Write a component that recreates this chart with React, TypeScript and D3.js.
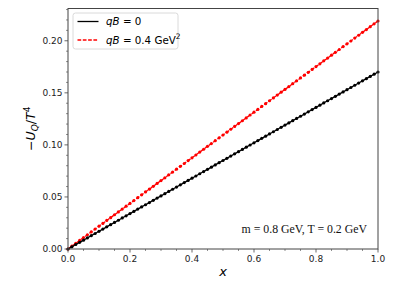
import React from "react";
import * as d3 from "d3";

const xValues = [
  0, 0.0125, 0.025, 0.0375, 0.05, 0.0625, 0.075, 0.0875, 0.1, 0.1125, 0.125, 0.1375, 0.15, 0.1625, 0.175, 0.1875,
  0.2, 0.2125, 0.225, 0.2375, 0.25, 0.2625, 0.275, 0.2875, 0.3, 0.3125, 0.325, 0.3375, 0.35, 0.3625, 0.375, 0.3875,
  0.4, 0.4125, 0.425, 0.4375, 0.45, 0.4625, 0.475, 0.4875, 0.5, 0.5125, 0.525, 0.5375, 0.55, 0.5625, 0.575, 0.5875,
  0.6, 0.6125, 0.625, 0.6375, 0.65, 0.6625, 0.675, 0.6875, 0.7, 0.7125, 0.725, 0.7375, 0.75, 0.7625, 0.775, 0.7875,
  0.8, 0.8125, 0.825, 0.8375, 0.85, 0.8625, 0.875, 0.8875, 0.9, 0.9125, 0.925, 0.9375, 0.95, 0.9625, 0.975, 0.9875, 1.0,
];

const seriesQB0 = [
  0, 0.0021, 0.0043, 0.0064, 0.0085, 0.0106, 0.0128, 0.0149, 0.017, 0.0191, 0.0213, 0.0234, 0.0255, 0.0276, 0.0298, 0.0319,
  0.034, 0.0361, 0.0383, 0.0404, 0.0425, 0.0446, 0.0468, 0.0489, 0.051, 0.0531, 0.0553, 0.0574, 0.0595, 0.0616, 0.0638, 0.0659,
  0.068, 0.0701, 0.0723, 0.0744, 0.0765, 0.0786, 0.0808, 0.0829, 0.085, 0.0871, 0.0893, 0.0914, 0.0935, 0.0956, 0.0978, 0.0999,
  0.102, 0.1041, 0.1063, 0.1084, 0.1105, 0.1126, 0.1148, 0.1169, 0.119, 0.1211, 0.1233, 0.1254, 0.1275, 0.1296, 0.1318, 0.1339,
  0.136, 0.1381, 0.1403, 0.1424, 0.1445, 0.1466, 0.1488, 0.1509, 0.153, 0.1551, 0.1573, 0.1594, 0.1615, 0.1636, 0.1658, 0.1679, 0.17,
];

const seriesQB04 = [
  0, 0.0027, 0.0055, 0.0082, 0.011, 0.0137, 0.0164, 0.0192, 0.0219, 0.0246, 0.0274, 0.0301, 0.0329, 0.0356, 0.0383, 0.0411,
  0.0438, 0.0465, 0.0493, 0.052, 0.0548, 0.0575, 0.0602, 0.063, 0.0657, 0.0684, 0.0712, 0.0739, 0.0767, 0.0794, 0.0821, 0.0849,
  0.0876, 0.0903, 0.0931, 0.0958, 0.0986, 0.1013, 0.104, 0.1068, 0.1095, 0.1122, 0.115, 0.1177, 0.1205, 0.1232, 0.1259, 0.1287,
  0.1314, 0.1341, 0.1369, 0.1396, 0.1424, 0.1451, 0.1478, 0.1506, 0.1533, 0.156, 0.1588, 0.1615, 0.1643, 0.167, 0.1697, 0.1725,
  0.1752, 0.1779, 0.1807, 0.1834, 0.1862, 0.1889, 0.1916, 0.1944, 0.1971, 0.1998, 0.2026, 0.2053, 0.2081, 0.2108, 0.2135, 0.2163, 0.219,
];

const xTicks = [0, 0.2, 0.4, 0.6, 0.8, 1.0];
const xMinorTicks = [0.05, 0.1, 0.15, 0.25, 0.3, 0.35, 0.45, 0.5, 0.55, 0.65, 0.7, 0.75, 0.85, 0.9, 0.95];
const yTicks = [0, 0.05, 0.1, 0.15, 0.2];
const yMinorTicks = [0.01, 0.02, 0.03, 0.04, 0.06, 0.07, 0.08, 0.09, 0.11, 0.12, 0.13, 0.14, 0.16, 0.17, 0.18, 0.19, 0.21, 0.22, 0.23];

const W = 407;
const H = 288;
const L = 68;
const R = 378;
const T = 8.5;
const B = 249;

export default function App() {
  const x = d3.scaleLinear().domain([0, 1]).range([L, R]);
  const y = d3.scaleLinear().domain([0, 0.231]).range([B, T]);

  const ptsBlack = xValues.map((v, i) => [x(v), y(seriesQB0[i])] as [number, number]);
  const ptsRed = xValues.map((v, i) => [x(v), y(seriesQB04[i])] as [number, number]);
  const line = d3.line();

  const tickFont = { fontFamily: "DejaVu Sans", fontSize: 9, fill: "#222" };
  const spine = "#444";

  return (
    <svg width={W} height={H} style={{ position: "absolute", left: 0, top: 0, background: "#fff" }}>
      <rect x={0} y={0} width={W} height={H} fill="#fff" />
      <defs>
        <clipPath id="plotclip">
          <rect x={L - 3} y={T - 3} width={R - L + 6} height={B - T + 6} />
        </clipPath>
      </defs>

      {/* data */}
      <g clipPath="url(#plotclip)">
        <path d={line(ptsRed) || ""} fill="none" stroke="#ff0000" strokeWidth={1.3} strokeDasharray="3.7,1.6" />
        {ptsRed.map((p, i) => (
          <circle key={"r" + i} cx={p[0]} cy={p[1]} r={1.6} fill="#ff0000" />
        ))}
        <path d={line(ptsBlack) || ""} fill="none" stroke="#000" strokeWidth={1.3} />
        {ptsBlack.map((p, i) => (
          <circle key={"b" + i} cx={p[0]} cy={p[1]} r={1.6} fill="#000" />
        ))}
      </g>

      {/* spines */}
      <rect x={L} y={T} width={R - L} height={B - T} fill="none" stroke={spine} strokeWidth={1} />

      {/* x ticks */}
      {xTicks.map((t) => (
        <g key={"xt" + t}>
          <line x1={x(t)} x2={x(t)} y1={B} y2={B + 3.5} stroke={spine} strokeWidth={0.8} />
          <text x={x(t)} y={262} textAnchor="middle" {...tickFont}>
            {t.toFixed(1)}
          </text>
        </g>
      ))}
      {xMinorTicks.map((t) => (
        <line key={"xm" + t} x1={x(t)} x2={x(t)} y1={B} y2={B + 2} stroke={spine} strokeWidth={0.6} />
      ))}

      {/* y ticks */}
      {yTicks.map((t) => (
        <g key={"yt" + t}>
          <line x1={L - 3.5} x2={L} y1={y(t)} y2={y(t)} stroke={spine} strokeWidth={0.8} />
          <text x={L - 5.5} y={y(t) + 3.3} textAnchor="end" {...tickFont}>
            {t.toFixed(2)}
          </text>
        </g>
      ))}
      {yMinorTicks.map((t) => (
        <line key={"ym" + t} x1={L - 2} x2={L} y1={y(t)} y2={y(t)} stroke={spine} strokeWidth={0.6} />
      ))}

      {/* axis labels */}
      <text x={223} y={276} textAnchor="middle" fontFamily="DejaVu Sans" fontSize={13} fontStyle="italic" fill="#000">
        x
      </text>
      <text
        transform={`translate(35, ${(T + B) / 2}) rotate(-90)`}
        textAnchor="middle"
        fontFamily="DejaVu Sans"
        fontSize={12.5}
        fill="#000"
      >
        <tspan>−</tspan>
        <tspan fontStyle="italic">U</tspan>
        <tspan fontStyle="italic" fontSize={9} dy={2.5}>Q</tspan>
        <tspan dy={-2.5}>/</tspan>
        <tspan fontStyle="italic">T</tspan>
        <tspan fontSize={9} dy={-5}>4</tspan>
      </text>

      {/* legend */}
      <rect x={73} y={13} width={105} height={36} rx={2.5} fill="#fff" fillOpacity={0.8} stroke="#d0d0d0" strokeWidth={0.8} />
      <line x1={77.5} x2={98.5} y1={21.5} y2={21.5} stroke="#000" strokeWidth={1.3} />
      <text x={106} y={25.2} fontFamily="DejaVu Sans" fontSize={10.3} fill="#000">
        <tspan fontStyle="italic">qB</tspan>
        <tspan> = 0</tspan>
      </text>
      <line x1={77.5} x2={98.5} y1={40} y2={40} stroke="#ff0000" strokeWidth={1.3} strokeDasharray="3.7,1.6" />
      <text x={106} y={43.7} fontFamily="DejaVu Sans" fontSize={10.3} fill="#000">
        <tspan fontStyle="italic">qB</tspan>
        <tspan> = 0.4 GeV</tspan>
        <tspan fontSize={7.5} dy={-4.5}>2</tspan>
      </text>

      {/* annotation */}
      <text x={367} y={233} textAnchor="end" fontFamily="Liberation Serif" fontSize={11.8} fill="#111">
        m = 0.8 GeV, T = 0.2 GeV
      </text>
    </svg>
  );
}
